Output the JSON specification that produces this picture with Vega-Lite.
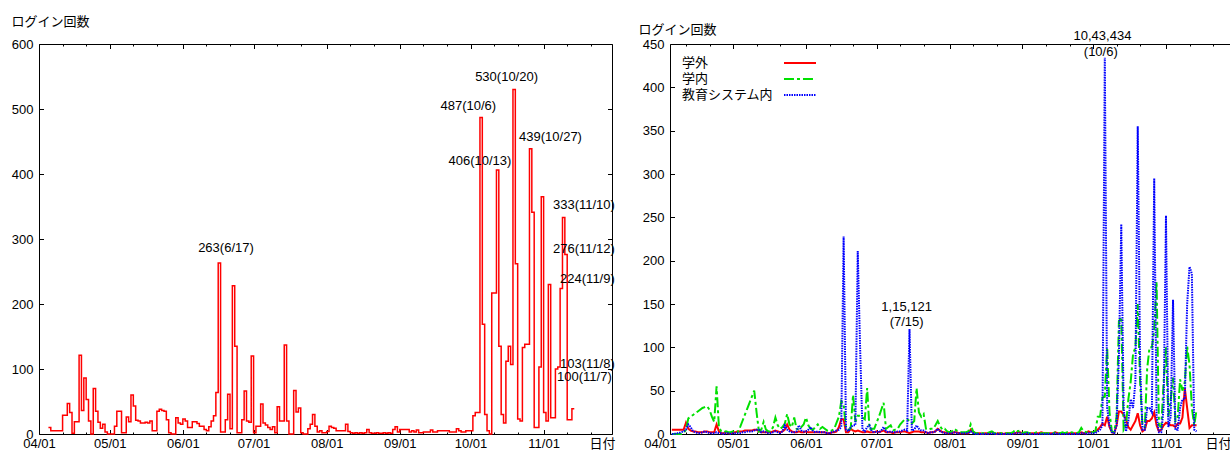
{
"$schema": "https://vega.github.io/schema/vega-lite/v6.json",
"background": "white",
"padding": {"left": 10, "top": 14, "right": 0, "bottom": 0},
"spacing": 58,
"bounds": "flush",
"config": {
  "font": "Liberation Sans, Noto Sans CJK JP",
  "axis": {"labelFontSize": 13, "labelColor": "#000", "titleFontSize": 13, "titleFontWeight": "normal", "titleColor": "#000", "tickColor": "#000", "tickWidth": 1, "domainColor": "#000", "domainWidth": 1, "grid": false},
  "legend": {"labelFontSize": 13, "labelColor": "#000"}
},
"datasets": {
"notesL": [
{"date": "2010/06/19 07:00", "value": 286, "label": "263(6/17)"},
{"date": "2010/10/16 07:00", "value": 550, "label": "530(10/20)"},
{"date": "2010/09/30 02:00", "value": 504, "label": "487(10/6)"},
{"date": "2010/11/03 22:00", "value": 457, "label": "439(10/27)"},
{"date": "2010/10/05 00:00", "value": 420, "label": "406(10/13)"},
{"date": "2010/11/18 02:00", "value": 352, "label": "333(11/10)"},
{"date": "2010/11/18 02:00", "value": 285, "label": "276(11/12)"},
{"date": "2010/11/19 14:00", "value": 239, "label": "224(11/9)"},
{"date": "2010/11/19 14:00", "value": 108, "label": "103(11/8)"},
{"date": "2010/11/18 07:00", "value": 88, "label": "100(11/7)"}
],
"notesR": [
{"date": "2010/10/05 00:00", "value": 459, "label": "10,43,434"},
{"date": "2010/10/04 07:00", "value": 441, "label": "(10/6)"},
{"date": "2010/07/13 19:00", "value": 146.8, "label": "1,15,121"},
{"date": "2010/07/13 19:00", "value": 129.8, "label": "(7/15)"}
],
"daily": [
{"date":"2010/04/05","total":10,"学外":5,"学内":0,"教育システム内":0},
{"date":"2010/04/06","total":10,"学外":5,"学内":0,"教育システム内":0},
{"date":"2010/04/07","total":5,"学外":5,"学内":0,"教育システム内":1},
{"date":"2010/04/08","total":5,"学外":5,"学内":0,"教育システム内":1},
{"date":"2010/04/09","total":5,"学外":5,"学内":0,"教育システム内":2},
{"date":"2010/04/10","total":5,"学外":5,"学内":1,"教育システム内":3},
{"date":"2010/04/11","total":5,"学外":13,"学内":5,"教育システム内":5},
{"date":"2010/04/12","total":29,"学外":6,"学内":18,"教育システム内":11},
{"date":"2010/04/13","total":29,"学外":4,"学内":20,"教育システム内":8},
{"date":"2010/04/14","total":47,"学外":3,"学内":22,"教育システム内":3},
{"date":"2010/04/15","total":33,"学外":3,"学内":24,"教育システム内":2},
{"date":"2010/04/16","total":1,"学外":2,"学内":26,"教育システム内":1},
{"date":"2010/04/17","total":19,"学外":2,"学内":28,"教育システム内":1},
{"date":"2010/04/18","total":19,"学外":2,"学内":30,"教育システム内":2},
{"date":"2010/04/19","total":121,"学外":3,"学内":31,"教育システム内":3},
{"date":"2010/04/20","total":36,"学外":3,"学内":32,"教育システム内":2},
{"date":"2010/04/21","total":86,"学外":2,"学内":28,"教育システム内":1},
{"date":"2010/04/22","total":53,"学外":2,"学内":20,"教育システム内":1},
{"date":"2010/04/23","total":20,"学外":2,"学内":14,"教育システム内":1},
{"date":"2010/04/24","total":0,"学外":11,"学内":55,"教育システム内":2},
{"date":"2010/04/25","total":70,"学外":3,"学内":8,"教育システム内":1},
{"date":"2010/04/26","total":35,"学外":1,"学内":3,"教育システム内":1},
{"date":"2010/04/27","total":18,"学外":1,"学内":2,"教育システム内":0},
{"date":"2010/04/28","total":9,"学外":2,"学内":3,"教育システム内":1},
{"date":"2010/04/29","total":15,"学外":1,"学内":2,"教育システム内":1},
{"date":"2010/04/30","total":3,"学外":1,"学内":2,"教育システム内":0},
{"date":"2010/05/01","total":0,"学外":2,"学内":3,"教育システム内":1},
{"date":"2010/05/02","total":0,"学外":2,"学内":2,"教育システム内":1},
{"date":"2010/05/03","total":0,"学外":3,"学内":2,"教育システム内":1},
{"date":"2010/05/04","total":12,"学外":3,"学内":8,"教育システム内":1},
{"date":"2010/05/05","total":35,"学外":3,"学内":15,"教育システム内":2},
{"date":"2010/05/06","total":35,"学外":4,"学内":22,"教育システム内":2},
{"date":"2010/05/07","total":2,"学外":4,"学内":29,"教育システム内":3},
{"date":"2010/05/08","total":2,"学外":4,"学内":36,"教育システム内":3},
{"date":"2010/05/09","total":26,"学外":4,"学内":43,"教育システム内":3},
{"date":"2010/05/10","total":19,"学外":5,"学内":50,"教育システム内":4},
{"date":"2010/05/11","total":60,"学外":5,"学内":25,"教育システム内":5},
{"date":"2010/05/12","total":43,"学外":3,"学内":3,"教育システム内":5},
{"date":"2010/05/13","total":21,"学外":2,"学内":5,"教育システム内":2},
{"date":"2010/05/14","total":20,"学外":2,"学内":14,"教育システム内":3},
{"date":"2010/05/15","total":17,"学外":2,"学内":5,"教育システム内":2},
{"date":"2010/05/16","total":17,"学外":2,"学内":3,"教育システム内":1},
{"date":"2010/05/17","total":18,"学外":2,"学内":3,"教育システム内":1},
{"date":"2010/05/18","total":17,"学外":3,"学内":8,"教育システム内":2},
{"date":"2010/05/19","total":20,"学外":4,"学内":19,"教育システム内":3},
{"date":"2010/05/20","total":5,"学外":3,"学内":10,"教育システム内":2},
{"date":"2010/05/21","total":5,"学外":2,"学内":6,"教育システム内":1},
{"date":"2010/05/22","total":35,"学外":3,"学内":8,"教育システム内":3},
{"date":"2010/05/23","total":38,"学外":5,"学内":12,"教育システム内":10},
{"date":"2010/05/24","total":36,"学外":11,"学内":23,"教育システム内":5},
{"date":"2010/05/25","total":35,"学外":5,"学内":11,"教育システム内":3},
{"date":"2010/05/26","total":22,"学外":3,"学内":8,"教育システム内":2},
{"date":"2010/05/27","total":2,"学外":2,"学内":19,"教育システム内":2},
{"date":"2010/05/28","total":0,"学外":2,"学内":6,"教育システム内":3},
{"date":"2010/05/29","total":0,"学外":3,"学内":5,"教育システム内":10},
{"date":"2010/05/30","total":25,"学外":2,"学内":8,"教育システム内":4},
{"date":"2010/05/31","total":17,"学外":2,"学内":11,"教育システム内":3},
{"date":"2010/06/01","total":15,"学外":3,"学内":19,"教育システム内":3},
{"date":"2010/06/02","total":23,"学外":2,"学内":10,"教育システム内":5},
{"date":"2010/06/03","total":20,"学外":2,"学内":6,"教育システム内":8},
{"date":"2010/06/04","total":10,"学外":2,"学内":5,"教育システム内":3},
{"date":"2010/06/05","total":10,"学外":2,"学内":8,"教育システム内":2},
{"date":"2010/06/06","total":19,"学外":2,"学内":11,"教育システム内":3},
{"date":"2010/06/07","total":19,"学外":2,"学内":6,"教育システム内":2},
{"date":"2010/06/08","total":16,"学外":2,"学内":8,"教育システム内":2},
{"date":"2010/06/09","total":12,"学外":2,"学内":6,"教育システム内":2},
{"date":"2010/06/10","total":12,"学外":1,"学内":4,"教育システム内":1},
{"date":"2010/06/11","total":7,"学外":1,"学内":3,"教育システム内":1},
{"date":"2010/06/12","total":5,"学外":2,"学内":4,"教育システム内":2},
{"date":"2010/06/13","total":11,"学外":2,"学内":6,"教育システム内":3},
{"date":"2010/06/14","total":20,"学外":3,"学内":13,"教育システム内":4},
{"date":"2010/06/15","total":28,"学外":8,"学内":20,"教育システム内":5},
{"date":"2010/06/16","total":64,"学外":17,"学内":38,"教育システム内":8},
{"date":"2010/06/17","total":263,"学外":17,"学内":34,"教育システム内":228},
{"date":"2010/06/18","total":3,"学外":2,"学内":6,"教育システム内":5},
{"date":"2010/06/19","total":3,"学外":2,"学内":5,"教育システム内":3},
{"date":"2010/06/20","total":22,"学外":6,"学内":6,"教育システム内":8},
{"date":"2010/06/21","total":61,"学外":4,"学内":45,"教育システム内":10},
{"date":"2010/06/22","total":8,"学外":3,"学内":14,"教育システム内":10},
{"date":"2010/06/23","total":228,"学外":4,"学内":21,"教育システム内":211},
{"date":"2010/06/24","total":135,"学外":3,"学内":21,"教育システム内":100},
{"date":"2010/06/25","total":2,"学外":2,"学内":19,"教育システム内":5},
{"date":"2010/06/26","total":2,"学外":2,"学内":17,"教育システム内":3},
{"date":"2010/06/27","total":22,"学外":3,"学内":53,"教育システム内":8},
{"date":"2010/06/28","total":66,"学外":2,"学内":5,"教育システム内":10},
{"date":"2010/06/29","total":20,"学外":2,"学内":6,"教育システム内":3},
{"date":"2010/06/30","total":18,"学外":2,"学内":6,"教育システム内":2},
{"date":"2010/07/01","total":120,"学外":3,"学内":13,"教育システム内":3},
{"date":"2010/07/02","total":2,"学外":2,"学内":20,"教育システム内":2},
{"date":"2010/07/03","total":12,"学外":3,"学内":28,"教育システム内":4},
{"date":"2010/07/04","total":12,"学外":4,"学内":36,"教育システム内":8},
{"date":"2010/07/05","total":46,"学外":2,"学内":6,"教育システム内":3},
{"date":"2010/07/06","total":17,"学外":2,"学内":8,"教育システム内":2},
{"date":"2010/07/07","total":14,"学外":2,"学内":10,"教育システム内":3},
{"date":"2010/07/08","total":10,"学外":1,"学内":4,"教育システム内":2},
{"date":"2010/07/09","total":7,"学外":2,"学内":5,"教育システム内":2},
{"date":"2010/07/10","total":11,"学外":2,"学内":6,"教育システム内":3},
{"date":"2010/07/11","total":2,"学外":2,"学内":11,"教育システム内":3},
{"date":"2010/07/12","total":42,"学外":3,"学内":14,"教育システム内":4},
{"date":"2010/07/13","total":20,"学外":3,"学内":17,"教育システム内":5},
{"date":"2010/07/14","total":20,"学外":2,"学内":17,"教育システム内":4},
{"date":"2010/07/15","total":137,"学外":1,"学内":15,"教育システム内":121},
{"date":"2010/07/16","total":20,"学外":2,"学内":12,"教育システム内":4},
{"date":"2010/07/17","total":0,"学外":3,"学内":15,"教育システム内":5},
{"date":"2010/07/18","total":0,"学外":3,"学内":53,"教育システム内":10},
{"date":"2010/07/19","total":67,"学外":3,"学内":25,"教育システム内":6},
{"date":"2010/07/20","total":34,"学外":2,"学内":20,"教育システム内":4},
{"date":"2010/07/21","total":40,"学外":2,"学内":23,"教育システム内":4},
{"date":"2010/07/22","total":2,"学外":2,"学内":6,"教育システム内":2},
{"date":"2010/07/23","total":0,"学外":1,"学内":5,"教育システム内":1},
{"date":"2010/07/24","total":0,"学外":2,"学内":6,"教育システム内":2},
{"date":"2010/07/25","total":8,"学外":2,"学内":6,"教育システム内":2},
{"date":"2010/07/26","total":15,"学外":3,"学内":10,"教育システム内":3},
{"date":"2010/07/27","total":30,"学外":6,"学内":15,"教育システム内":6},
{"date":"2010/07/28","total":12,"学外":4,"学内":9,"教育システム内":3},
{"date":"2010/07/29","total":3,"学外":2,"学内":5,"教育システム内":2},
{"date":"2010/07/30","total":5,"学外":2,"学内":6,"教育システム内":1},
{"date":"2010/07/31","total":2,"学外":1,"学内":3,"教育システム内":1},
{"date":"2010/08/01","total":2,"学外":1,"学内":2,"教育システム内":1},
{"date":"2010/08/02","total":4,"学外":1,"学内":3,"教育システム内":1},
{"date":"2010/08/03","total":12,"学外":2,"学内":6,"教育システム内":2},
{"date":"2010/08/04","total":10,"学外":2,"学内":4,"教育システム内":1},
{"date":"2010/08/05","total":9,"学外":1,"学内":3,"教育システム内":1},
{"date":"2010/08/06","total":5,"学外":1,"学内":2,"教育システム内":1},
{"date":"2010/08/07","total":5,"学外":1,"学内":2,"教育システム内":1},
{"date":"2010/08/08","total":5,"学外":1,"学内":2,"教育システム内":1},
{"date":"2010/08/09","total":5,"学外":1,"学内":3,"教育システム内":1},
{"date":"2010/08/10","total":15,"学外":5,"学内":11,"教育システム内":3},
{"date":"2010/08/11","total":4,"学外":2,"学内":3,"教育システム内":1},
{"date":"2010/08/12","total":2,"学外":1,"学内":1,"教育システム内":0},
{"date":"2010/08/13","total":1,"学外":1,"学内":1,"教育システム内":0},
{"date":"2010/08/14","total":2,"学外":1,"学内":2,"教育システム内":0},
{"date":"2010/08/15","total":1,"学外":0,"学内":1,"教育システム内":0},
{"date":"2010/08/16","total":2,"学外":1,"学内":1,"教育システム内":0},
{"date":"2010/08/17","total":1,"学外":1,"学内":1,"教育システム内":0},
{"date":"2010/08/18","total":2,"学外":1,"学内":2,"教育システム内":0},
{"date":"2010/08/19","total":7,"学外":2,"学内":3,"教育システム内":1},
{"date":"2010/08/20","total":2,"学外":1,"学内":1,"教育システム内":0},
{"date":"2010/08/21","total":1,"学外":0,"学内":1,"教育システム内":0},
{"date":"2010/08/22","total":1,"学外":1,"学内":1,"教育システム内":0},
{"date":"2010/08/23","total":2,"学外":1,"学内":1,"教育システム内":0},
{"date":"2010/08/24","total":1,"学外":0,"学内":1,"教育システム内":0},
{"date":"2010/08/25","total":1,"学外":1,"学内":1,"教育システム内":0},
{"date":"2010/08/26","total":2,"学外":1,"学内":1,"教育システム内":0},
{"date":"2010/08/27","total":1,"学外":1,"学内":1,"教育システム内":0},
{"date":"2010/08/28","total":2,"学外":1,"学内":2,"教育システム内":0},
{"date":"2010/08/29","total":1,"学外":1,"学内":5,"教育システム内":1},
{"date":"2010/08/30","total":7,"学外":2,"学内":3,"教育システム内":1},
{"date":"2010/08/31","total":11,"学外":2,"学内":4,"教育システム内":1},
{"date":"2010/09/01","total":3,"学外":1,"学内":1,"教育システム内":0},
{"date":"2010/09/02","total":7,"学外":1,"学内":2,"教育システム内":0},
{"date":"2010/09/03","total":7,"学外":1,"学内":2,"教育システム内":1},
{"date":"2010/09/04","total":7,"学外":1,"学内":1,"教育システム内":0},
{"date":"2010/09/05","total":7,"学外":1,"学内":1,"教育システム内":0},
{"date":"2010/09/06","total":3,"学外":1,"学内":1,"教育システム内":0},
{"date":"2010/09/07","total":5,"学外":1,"学内":2,"教育システム内":0},
{"date":"2010/09/08","total":3,"学外":1,"学内":1,"教育システム内":0},
{"date":"2010/09/09","total":6,"学外":2,"学内":1,"教育システム内":0},
{"date":"2010/09/10","total":2,"学外":1,"学内":1,"教育システム内":0},
{"date":"2010/09/11","total":2,"学外":1,"学内":1,"教育システム内":0},
{"date":"2010/09/12","total":3,"学外":1,"学内":1,"教育システム内":0},
{"date":"2010/09/13","total":3,"学外":1,"学内":1,"教育システム内":0},
{"date":"2010/09/14","total":3,"学外":1,"学内":1,"教育システム内":0},
{"date":"2010/09/15","total":6,"学外":2,"学内":2,"教育システム内":1},
{"date":"2010/09/16","total":3,"学外":1,"学内":1,"教育システム内":0},
{"date":"2010/09/17","total":3,"学外":1,"学内":1,"教育システム内":0},
{"date":"2010/09/18","total":5,"学外":1,"学内":2,"教育システム内":0},
{"date":"2010/09/19","total":5,"学外":1,"学内":1,"教育システム内":0},
{"date":"2010/09/20","total":5,"学外":1,"学内":2,"教育システム内":0},
{"date":"2010/09/21","total":5,"学外":1,"学内":1,"教育システム内":0},
{"date":"2010/09/22","total":5,"学外":1,"学内":2,"教育システム内":0},
{"date":"2010/09/23","total":3,"学外":1,"学内":1,"教育システム内":0},
{"date":"2010/09/24","total":3,"学外":1,"学内":1,"教育システム内":0},
{"date":"2010/09/25","total":3,"学外":1,"学内":2,"教育システム内":0},
{"date":"2010/09/26","total":8,"学外":2,"学内":7,"教育システム内":1},
{"date":"2010/09/27","total":5,"学外":1,"学内":3,"教育システム内":1},
{"date":"2010/09/28","total":3,"学外":1,"学内":2,"教育システム内":0},
{"date":"2010/09/29","total":3,"学外":3,"学内":2,"教育システム内":1},
{"date":"2010/09/30","total":5,"学外":2,"学内":2,"教育システム内":1},
{"date":"2010/10/01","total":5,"学外":2,"学内":2,"教育システム内":1},
{"date":"2010/10/02","total":5,"学外":3,"学内":3,"教育システム内":1},
{"date":"2010/10/03","total":28,"学外":5,"学内":20,"教育システム内":3},
{"date":"2010/10/04","total":33,"学外":8,"学内":20,"教育システム内":5},
{"date":"2010/10/05","total":33,"学外":12,"学内":42,"教育システム内":10},
{"date":"2010/10/06","total":487,"学外":10,"学内":43,"教育システム内":434},
{"date":"2010/10/07","total":169,"学外":20,"学内":100,"教育システム内":30},
{"date":"2010/10/08","total":30,"学外":8,"学内":25,"教育システム内":10},
{"date":"2010/10/09","total":5,"学外":2,"学内":3,"教育システム内":2},
{"date":"2010/10/10","total":0,"学外":1,"学内":2,"教育システム内":1},
{"date":"2010/10/11","total":217,"学外":10,"学内":20,"教育システム内":10},
{"date":"2010/10/12","total":217,"学外":26,"学内":130,"教育システム内":90},
{"date":"2010/10/13","total":406,"学外":26,"学内":135,"教育システム内":242},
{"date":"2010/10/14","total":135,"学外":22,"学内":5,"教育システム内":30},
{"date":"2010/10/15","total":30,"学外":17,"学内":10,"教育システム内":3},
{"date":"2010/10/16","total":17,"学外":8,"学内":40,"教育システム内":15},
{"date":"2010/10/17","total":112,"学外":5,"学内":60,"教育システム内":40},
{"date":"2010/10/18","total":135,"学外":10,"学内":92,"教育システム内":30},
{"date":"2010/10/19","total":107,"学外":15,"学内":100,"教育システム内":60},
{"date":"2010/10/20","total":530,"学外":24,"学内":150,"教育システム内":355},
{"date":"2010/10/21","total":262,"学外":10,"学内":60,"教育システム内":80},
{"date":"2010/10/22","total":23,"学外":3,"学内":10,"教育システム内":5},
{"date":"2010/10/23","total":20,"学外":5,"学内":8,"教育システム内":5},
{"date":"2010/10/24","total":133,"学外":15,"学内":75,"教育システム内":30},
{"date":"2010/10/25","total":138,"学外":15,"学内":100,"教育システム内":30},
{"date":"2010/10/26","total":138,"学外":18,"学内":100,"教育システム内":25},
{"date":"2010/10/27","total":439,"学外":25,"学内":120,"教育システム内":295},
{"date":"2010/10/28","total":341,"学外":10,"学内":176,"教育システム内":20},
{"date":"2010/10/29","total":10,"学外":3,"学内":10,"教育システム内":2},
{"date":"2010/10/30","total":10,"学外":5,"学内":8,"教育システム内":2},
{"date":"2010/10/31","total":103,"学外":10,"学内":60,"教育システム内":30},
{"date":"2010/11/01","total":365,"学外":13,"学内":100,"教育システム内":252},
{"date":"2010/11/02","total":33,"学外":12,"学内":20,"教育システム内":8},
{"date":"2010/11/03","total":20,"学外":10,"学内":40,"教育システム内":20},
{"date":"2010/11/04","total":230,"学外":10,"学内":65,"教育システム内":155},
{"date":"2010/11/05","total":25,"学外":8,"学内":15,"教育システム内":5},
{"date":"2010/11/06","total":25,"学外":12,"学内":20,"教育システム内":5},
{"date":"2010/11/07","total":100,"学外":12,"学内":63,"教育システム内":30},
{"date":"2010/11/08","total":103,"学外":19,"学内":50,"教育システム内":40},
{"date":"2010/11/09","total":224,"学外":53,"学内":60,"教育システム内":40},
{"date":"2010/11/10","total":333,"学外":30,"学内":101,"教育システム内":150},
{"date":"2010/11/11","total":276,"学外":7,"学内":80,"教育システム内":193},
{"date":"2010/11/12","total":22,"学外":10,"学内":30,"教育システム内":185},
{"date":"2010/11/13","total":22,"学外":10,"学内":10,"教育システム内":5},
{"date":"2010/11/14","total":39,"学外":10,"学内":28,"教育システム内":3}
]
},
"hconcat": [
{
  "width": 573, "height": 390,
  "view": {"stroke": "#000", "strokeWidth": 1},
  "layer": [
    {
      "data": {"name": "daily"},
      "mark": {"type": "line", "interpolate": "step-before", "color": "#ff0000", "strokeWidth": 1.5},
      "encoding": {
        "x": {"field": "date", "type": "temporal",
              "scale": {"domain": [{"year": 2010, "month": 4, "date": 1}, {"year": 2010, "month": 11, "date": 30}], "nice": false},
              "axis": {"orient": "bottom", "format": "%m/%d", "ticks": false, "domain": false, "labelPadding": 3, "labelFlush": false, "labelOverlap": false,
                       "values": [{"year": 2010, "month": 4, "date": 1}, {"year": 2010, "month": 5, "date": 1}, {"year": 2010, "month": 6, "date": 1}, {"year": 2010, "month": 7, "date": 1}, {"year": 2010, "month": 8, "date": 1}, {"year": 2010, "month": 9, "date": 1}, {"year": 2010, "month": 10, "date": 1}, {"year": 2010, "month": 11, "date": 1}],
                       "title": "日付", "titleX": 550, "titleY": 3, "titleAlign": "left", "titleBaseline": "top"}},
        "y": {"field": "total", "type": "quantitative",
              "scale": {"domain": [0, 600], "nice": false},
              "axis": {"orient": "left", "values": [0, 100, 200, 300, 400, 500, 600], "ticks": false, "domain": false, "labelPadding": 6,
                       "title": "ログイン回数", "titleAngle": 0, "titleX": -28, "titleY": -29, "titleAlign": "left", "titleBaseline": "top"}}
      }
    },
    {
      "data": {"name": "notesL"},
      "mark": {"type": "point", "opacity": 0},
      "encoding": {
        "x": {"field": "date", "type": "temporal",
              "scale": {"domain": [{"year": 2010, "month": 4, "date": 1}, {"year": 2010, "month": 11, "date": 30}], "nice": false},
              "axis": {"orient": "bottom", "labels": false, "domain": false, "title": null,
                       "tickSize": {"condition": {"test": "date(datum.value) == 1", "value": -4.5}, "value": -2},
                       "values": [{"year": 2010, "month": 4, "date": 1}, {"year": 2010, "month": 4, "date": 11}, {"year": 2010, "month": 4, "date": 21}, {"year": 2010, "month": 5, "date": 1}, {"year": 2010, "month": 5, "date": 11}, {"year": 2010, "month": 5, "date": 21}, {"year": 2010, "month": 6, "date": 1}, {"year": 2010, "month": 6, "date": 11}, {"year": 2010, "month": 6, "date": 21}, {"year": 2010, "month": 7, "date": 1}, {"year": 2010, "month": 7, "date": 11}, {"year": 2010, "month": 7, "date": 21}, {"year": 2010, "month": 8, "date": 1}, {"year": 2010, "month": 8, "date": 11}, {"year": 2010, "month": 8, "date": 21}, {"year": 2010, "month": 9, "date": 1}, {"year": 2010, "month": 9, "date": 11}, {"year": 2010, "month": 9, "date": 21}, {"year": 2010, "month": 10, "date": 1}, {"year": 2010, "month": 10, "date": 11}, {"year": 2010, "month": 10, "date": 21}, {"year": 2010, "month": 11, "date": 1}, {"year": 2010, "month": 11, "date": 11}, {"year": 2010, "month": 11, "date": 21}]}},
        "y": {"field": "value", "type": "quantitative", "scale": {"domain": [0, 600], "nice": false},
              "axis": {"orient": "left", "values": [0, 100, 200, 300, 400, 500, 600], "labels": false, "domain": false, "title": null, "tickSize": -4.5}}
      }
    },
    {
      "data": {"name": "notesL"},
      "mark": {"type": "point", "opacity": 0},
      "encoding": {
        "x": {"field": "date", "type": "temporal",
              "scale": {"domain": [{"year": 2010, "month": 4, "date": 1}, {"year": 2010, "month": 11, "date": 30}], "nice": false},
              "axis": {"orient": "top", "labels": false, "domain": false, "title": null,
                       "tickSize": {"condition": {"test": "date(datum.value) == 1", "value": -4.5}, "value": -2},
                       "values": [{"year": 2010, "month": 4, "date": 1}, {"year": 2010, "month": 4, "date": 11}, {"year": 2010, "month": 4, "date": 21}, {"year": 2010, "month": 5, "date": 1}, {"year": 2010, "month": 5, "date": 11}, {"year": 2010, "month": 5, "date": 21}, {"year": 2010, "month": 6, "date": 1}, {"year": 2010, "month": 6, "date": 11}, {"year": 2010, "month": 6, "date": 21}, {"year": 2010, "month": 7, "date": 1}, {"year": 2010, "month": 7, "date": 11}, {"year": 2010, "month": 7, "date": 21}, {"year": 2010, "month": 8, "date": 1}, {"year": 2010, "month": 8, "date": 11}, {"year": 2010, "month": 8, "date": 21}, {"year": 2010, "month": 9, "date": 1}, {"year": 2010, "month": 9, "date": 11}, {"year": 2010, "month": 9, "date": 21}, {"year": 2010, "month": 10, "date": 1}, {"year": 2010, "month": 10, "date": 11}, {"year": 2010, "month": 10, "date": 21}, {"year": 2010, "month": 11, "date": 1}, {"year": 2010, "month": 11, "date": 11}, {"year": 2010, "month": 11, "date": 21}]}},
        "y": {"field": "value", "type": "quantitative", "scale": {"domain": [0, 600], "nice": false},
              "axis": {"orient": "right", "values": [0, 100, 200, 300, 400, 500, 600], "labels": false, "domain": false, "title": null, "tickSize": -4.5}}
      }
    },
    {
      "data": {"name": "notesL"},
      "mark": {"type": "text", "fontSize": 13, "color": "#000", "align": "center", "baseline": "middle"},
      "encoding": {
        "x": {"field": "date", "type": "temporal", "axis": null},
        "y": {"field": "value", "type": "quantitative", "axis": null},
        "text": {"field": "label"}
      }
    }
  ],
  "resolve": {"axis": {"x": "independent", "y": "independent"}}
},
{
  "width": 560, "height": 390,
  "view": {"stroke": null},
  "layer": [
    {
      "data": {"name": "daily"},
      "transform": [{"fold": ["学外", "学内", "教育システム内"], "as": ["系列", "回数"]}],
      "mark": {"type": "line", "strokeWidth": 2},
      "encoding": {
        "x": {"field": "date", "type": "temporal",
              "scale": {"domain": [{"year": 2010, "month": 4, "date": 4, "hours": 5}, {"year": 2010, "month": 11, "date": 28, "hours": 5}], "nice": false},
              "axis": {"orient": "bottom", "ticks": false, "domain": true, "labelPadding": 3, "labelFlush": false, "labelOverlap": false,
                       "labelExpr": "date(datum.value) == 4 ? '04/01' : timeFormat(datum.value, '%m/%d')",
                       "labelOffset": {"condition": {"test": "date(datum.value) == 4", "value": -10}, "value": 0},
                       "values": [{"year": 2010, "month": 4, "date": 4, "hours": 5}, {"year": 2010, "month": 5, "date": 1}, {"year": 2010, "month": 6, "date": 1}, {"year": 2010, "month": 7, "date": 1}, {"year": 2010, "month": 8, "date": 1}, {"year": 2010, "month": 9, "date": 1}, {"year": 2010, "month": 10, "date": 1}, {"year": 2010, "month": 11, "date": 1}],
                       "title": "日付", "titleX": 535, "titleY": 3, "titleAlign": "left", "titleBaseline": "top"}},
        "y": {"field": "回数", "type": "quantitative",
              "scale": {"domain": [0, 450], "nice": false},
              "axis": {"orient": "left", "values": [0, 50, 100, 150, 200, 250, 300, 350, 400, 450], "ticks": false, "domain": true, "labelPadding": 6,
                       "title": "ログイン回数", "titleAngle": 0, "titleX": -32, "titleY": -21, "titleAlign": "left", "titleBaseline": "top"}},
        "color": {"field": "系列", "type": "nominal",
                  "scale": {"domain": ["学外", "学内", "教育システム内"], "range": ["#ff0000", "#00e000", "#0000ff"]},
                  "legend": {"orient": "none", "legendX": 754, "legendY": 12, "title": null, "symbolType": "M-2.67,0H2.67", "symbolSize": 144, "symbolStrokeWidth": 2, "labelOffset": -125, "labelAlign": "left", "rowPadding": 2, "padding": 0, "labelLimit": 0}},
        "strokeDash": {"field": "系列", "type": "nominal",
                  "scale": {"domain": ["学外", "学内", "教育システム内"], "range": [[1, 0], [10, 3, 3, 3], [1.5, 1]]},
                  "legend": {"orient": "none", "legendX": 754, "legendY": 12, "title": null, "symbolType": "M-2.67,0H2.67", "symbolSize": 144, "symbolStrokeWidth": 2, "labelOffset": -125, "labelAlign": "left", "rowPadding": 2, "padding": 0, "labelLimit": 0}}
      }
    },
    {
      "data": {"name": "notesR"},
      "mark": {"type": "point", "opacity": 0},
      "encoding": {
        "x": {"field": "date", "type": "temporal",
              "scale": {"domain": [{"year": 2010, "month": 4, "date": 4, "hours": 5}, {"year": 2010, "month": 11, "date": 28, "hours": 5}], "nice": false},
              "axis": {"orient": "bottom", "labels": false, "domain": false, "title": null,
                       "tickSize": {"condition": {"test": "date(datum.value) == 1", "value": -4.5}, "value": -2},
                       "values": [{"year": 2010, "month": 4, "date": 11}, {"year": 2010, "month": 4, "date": 21}, {"year": 2010, "month": 5, "date": 1}, {"year": 2010, "month": 5, "date": 11}, {"year": 2010, "month": 5, "date": 21}, {"year": 2010, "month": 6, "date": 1}, {"year": 2010, "month": 6, "date": 11}, {"year": 2010, "month": 6, "date": 21}, {"year": 2010, "month": 7, "date": 1}, {"year": 2010, "month": 7, "date": 11}, {"year": 2010, "month": 7, "date": 21}, {"year": 2010, "month": 8, "date": 1}, {"year": 2010, "month": 8, "date": 11}, {"year": 2010, "month": 8, "date": 21}, {"year": 2010, "month": 9, "date": 1}, {"year": 2010, "month": 9, "date": 11}, {"year": 2010, "month": 9, "date": 21}, {"year": 2010, "month": 10, "date": 1}, {"year": 2010, "month": 10, "date": 11}, {"year": 2010, "month": 10, "date": 21}, {"year": 2010, "month": 11, "date": 1}, {"year": 2010, "month": 11, "date": 11}, {"year": 2010, "month": 11, "date": 21}]}},
        "y": {"field": "value", "type": "quantitative", "scale": {"domain": [0, 450], "nice": false},
              "axis": {"orient": "left", "values": [0, 50, 100, 150, 200, 250, 300, 350, 400, 450], "labels": false, "domain": false, "title": null, "tickSize": -4.5}}
      }
    },
    {
      "data": {"name": "notesR"},
      "mark": {"type": "point", "opacity": 0},
      "encoding": {
        "x": {"field": "date", "type": "temporal",
              "scale": {"domain": [{"year": 2010, "month": 4, "date": 4, "hours": 5}, {"year": 2010, "month": 11, "date": 28, "hours": 5}], "nice": false},
              "axis": {"orient": "top", "labels": false, "domain": true, "title": null,
                       "tickSize": {"condition": {"test": "date(datum.value) == 1", "value": -4.5}, "value": -2},
                       "values": [{"year": 2010, "month": 4, "date": 11}, {"year": 2010, "month": 4, "date": 21}, {"year": 2010, "month": 5, "date": 1}, {"year": 2010, "month": 5, "date": 11}, {"year": 2010, "month": 5, "date": 21}, {"year": 2010, "month": 6, "date": 1}, {"year": 2010, "month": 6, "date": 11}, {"year": 2010, "month": 6, "date": 21}, {"year": 2010, "month": 7, "date": 1}, {"year": 2010, "month": 7, "date": 11}, {"year": 2010, "month": 7, "date": 21}, {"year": 2010, "month": 8, "date": 1}, {"year": 2010, "month": 8, "date": 11}, {"year": 2010, "month": 8, "date": 21}, {"year": 2010, "month": 9, "date": 1}, {"year": 2010, "month": 9, "date": 11}, {"year": 2010, "month": 9, "date": 21}, {"year": 2010, "month": 10, "date": 1}, {"year": 2010, "month": 10, "date": 11}, {"year": 2010, "month": 10, "date": 21}, {"year": 2010, "month": 11, "date": 1}, {"year": 2010, "month": 11, "date": 11}, {"year": 2010, "month": 11, "date": 21}]}},
        "y": {"field": "value", "type": "quantitative", "scale": {"domain": [0, 450], "nice": false}, "axis": null}
      }
    },
    {
      "data": {"name": "notesR"},
      "mark": {"type": "text", "fontSize": 13, "color": "#000", "align": "center", "baseline": "middle"},
      "encoding": {
        "x": {"field": "date", "type": "temporal", "axis": null},
        "y": {"field": "value", "type": "quantitative", "axis": null},
        "text": {"field": "label"}
      }
    }
  ],
  "resolve": {"axis": {"x": "independent", "y": "independent"}}
}
]
}
